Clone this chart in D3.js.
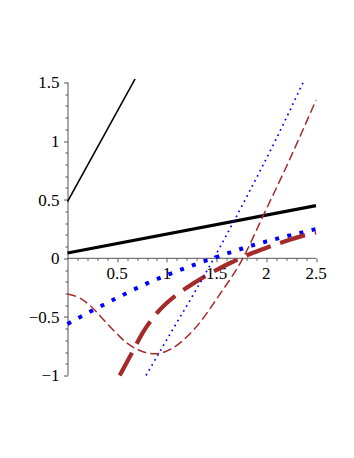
<!DOCTYPE html>
<html>
<head>
<meta charset="utf-8">
<script src="https://cdn.jsdelivr.net/npm/d3@7"></script>
<style>
  body { margin: 0; background: #fff; }
  text { font-family: "Liberation Serif", "DejaVu Serif", serif; font-size: 17px; fill: #000; }
</style>
</head>
<body>
<div id="chart"></div>
<script>
// tick labels
var xTicks = [0.5, 1, 1.5, 2, 2.5];
var yTicks = [-1, -0.5, 0, 0.5, 1, 1.5];

// thin black line
var thinBlackX = [0, 0.68];
var thinBlackY = [0.484, 1.53];

// thick black line
var thickBlackX = [0, 2.5];
var thickBlackY = [0.045, 0.45];

// thick blue dotted curve
var blueDotX = [0, 0.24, 0.47, 0.81, 1.04, 1.53, 1.9, 2.38, 2.5];
var blueDotY = [-0.56, -0.45, -0.35, -0.21, -0.13, 0.02, 0.12, 0.225, 0.25];

// thin blue dotted curve
var blueThinX = [0.79, 1.05, 1.3, 1.55, 1.8, 2.1, 2.37];
var blueThinY = [-1, -0.62, -0.26, 0.12, 0.52, 1.02, 1.5];

// thick brown dashed curve
var brownThickX = [0.525, 0.646, 0.75, 0.897, 1.1, 1.18, 1.467, 1.636, 1.836, 2.037, 2.155, 2.4, 2.5];
var brownThickY = [-1, -0.81, -0.645, -0.47, -0.31, -0.262, -0.114, -0.04, 0.037, 0.10, 0.135, 0.2, 0.22];

// thin brown dashed curve
var brownThinX = [0, 0.126, 0.26, 0.37, 0.51, 0.578, 0.71, 0.88, 1.05, 1.28, 1.53, 1.745, 2.0, 2.19, 2.5];
var brownThinY = [-0.305, -0.34, -0.43, -0.53, -0.655, -0.71, -0.78, -0.815, -0.77, -0.60, -0.31, -0.03, 0.42, 0.76, 1.35];

var margin = {top: 82.5, right: 38, bottom: 82.5, left: 67.5};
var width = 354 - margin.left - margin.right,
    height = 458 - margin.top - margin.bottom;

var svg = d3.select("#chart").append("svg")
    .attr("width", 354)
    .attr("height", 458)
  .append("g")
    .attr("transform", "translate(" + margin.left + "," + margin.top + ")");

var x = d3.scaleLinear().domain([0, 2.5]).range([0, 248.5]);
var y = d3.scaleLinear().domain([-1, 1.5]).range([293, 0]);

svg.append("clipPath").attr("id", "clip")
  .append("rect")
    .attr("x", x(0) - 2).attr("y", y(1.53))
    .attr("width", x(2.5) - x(0) + 4).attr("height", y(-1.01) - y(1.53));

// axes
var axisColor = "#555";
var xAxisG = svg.append("g").attr("transform", "translate(0," + y(0) + ")");
xAxisG.append("line").attr("x1", x(0)).attr("x2", x(2.5)).attr("stroke", axisColor);
xAxisG.selectAll(".minor").data(d3.range(1, 26).map(function (i) { return i / 10; }))
  .enter().append("line")
    .attr("x1", function (d) { return Math.round(x(d)) + 0.5; })
    .attr("x2", function (d) { return Math.round(x(d)) + 0.5; })
    .attr("y1", 0)
    .attr("y2", function (d, i) { return (i + 1) % 5 == 0 ? 4 : 2.5; })
    .attr("stroke", axisColor);
xAxisG.selectAll("text").data(xTicks).enter().append("text")
    .attr("x", function (d) { return x(d); })
    .attr("y", 21)
    .attr("text-anchor", "middle")
    .text(function (d) { return d; });

var yAxisG = svg.append("g");
yAxisG.append("line").attr("x1", 0.5).attr("x2", 0.5).attr("y1", y(-1)).attr("y2", y(1.5)).attr("stroke", axisColor);
yAxisG.selectAll(".minor").data(d3.range(-10, 16).map(function (i) { return i / 10; }))
  .enter().append("line")
    .attr("y1", function (d) { return Math.round(y(d)) + 0.5; })
    .attr("y2", function (d) { return Math.round(y(d)) + 0.5; })
    .attr("x1", 0.5)
    .attr("x2", function (d, i) { return i % 5 == 0 ? -3.5 : -2; })
    .attr("stroke", axisColor);
yAxisG.selectAll("text").data(yTicks).enter().append("text")
    .attr("x", -8)
    .attr("y", function (d) { return y(d); })
    .attr("dy", "0.35em")
    .attr("text-anchor", "end")
    .text(function (d) { return d < 0 ? "\u2212" + Math.abs(d) : d; });

// curves
function pts(xs, ys) { return xs.map(function (v, i) { return [v, ys[i]]; }); }
var line = d3.line()
    .x(function (d) { return x(d[0]); })
    .y(function (d) { return y(d[1]); })
    .curve(d3.curveMonotoneX);

var series = [
  {data: pts(thinBlackX, thinBlackY), color: "#000", w: 1.6, dash: null},
  {data: pts(thickBlackX, thickBlackY), color: "#000", w: 3.2, dash: null},
  {data: pts(blueDotX, blueDotY), color: "#0000ff", w: 4, dash: "4,8.5"},
  {data: pts(brownThickX, brownThickY), color: "#a52a2a", w: 4.2, dash: "26,10"},
  {data: pts(blueThinX, blueThinY), color: "#0000ff", w: 1.7, dash: "1.7,4"},
  {data: pts(brownThinX, brownThinY), color: "#a52a2a", w: 1.5, dash: "9,4"}
];

var plot = svg.append("g").attr("clip-path", "url(#clip)");
plot.selectAll("path").data(series).enter().append("path")
    .attr("d", function (d) { return line(d.data); })
    .attr("fill", "none")
    .attr("stroke", function (d) { return d.color; })
    .attr("stroke-width", function (d) { return d.w; })
    .attr("stroke-dasharray", function (d) { return d.dash; });
</script>
</body>
</html>
